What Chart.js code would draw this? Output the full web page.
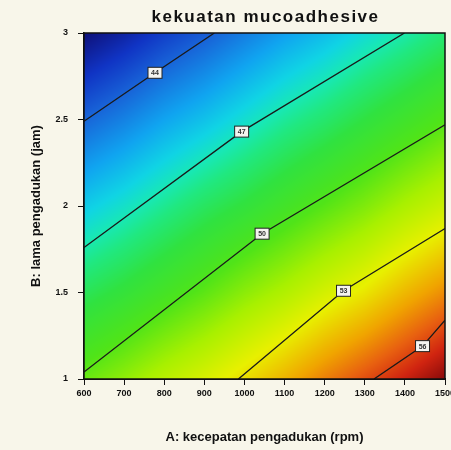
<!DOCTYPE html>
<html>
<head>
<meta charset="utf-8">
<script src="https://cdn.jsdelivr.net/npm/chart.js@4/dist/chart.umd.min.js"></script>
<style>
  html, body { margin: 0; padding: 0; background: #f8f6ea; overflow: hidden; }
  #wrap { width: 460px; height: 450px; }
</style>
</head>
<body>
<div id="wrap"><canvas id="c"></canvas></div>
<script>
// A: stirring speed (rpm) and B: stirring time (jam)
const speedTicks = [600, 700, 800, 900, 1000, 1100, 1200, 1300, 1400, 1500];
const timeTicks = [1, 1.5, 2, 2.5, 3];

// Mucoadhesive strength over the design space, one row per timeTicks value
const strengthAt1 =   [50.4, 51.1, 51.9, 52.6, 53.4, 54.2, 55.1, 55.9, 56.7, 57.6];
const strengthAt1_5 = [48.2, 48.8, 49.5, 50.2, 51.0, 51.7, 52.5, 53.2, 54.1, 54.9];
const strengthAt2 =   [46.1, 46.7, 47.4, 48.1, 48.7, 49.4, 50.1, 50.8, 51.6, 52.3];
const strengthAt2_5 = [44.0, 44.6, 45.3, 45.9, 46.6, 47.3, 47.9, 48.6, 49.3, 50.0];
const strengthAt3 =   [41.9, 42.5, 43.2, 43.8, 44.5, 45.2, 45.8, 46.5, 47.1, 47.8];
const strengthGrid = [strengthAt1, strengthAt1_5, strengthAt2, strengthAt2_5, strengthAt3];

// Contour levels and their iso-lines (the middle point carries the label)
const contourLevels = [44, 47, 50, 53, 56];
const contour44 = [{x: 600, y: 2.49}, {x: 777, y: 2.77}, {x: 925, y: 3.00}];
const contour47 = [{x: 600, y: 1.76}, {x: 993, y: 2.43}, {x: 1399, y: 3.00}];
const contour50 = [{x: 600, y: 1.04}, {x: 1044, y: 1.84}, {x: 1500, y: 2.47}];
const contour53 = [{x: 985, y: 1.00}, {x: 1247, y: 1.51}, {x: 1500, y: 1.87}];
const contour56 = [{x: 1323, y: 1.00}, {x: 1444, y: 1.19}, {x: 1500, y: 1.34}];
const contourLines = [contour44, contour47, contour50, contour53, contour56];

const chartTitle = 'kekuatan mucoadhesive';

// Blue -> cyan -> green -> yellow -> red colour ramp
const rampStops = [
  [41.9, [14, 16, 120]],
  [43.0, [16, 52, 196]],
  [44.0, [24, 100, 216]],
  [45.3, [16, 164, 240]],
  [46.3, [16, 212, 228]],
  [47.0, [24, 232, 180]],
  [47.6, [32, 232, 128]],
  [48.6, [48, 226, 64]],
  [50.0, [80, 228, 24]],
  [51.5, [168, 240, 0]],
  [53.0, [232, 240, 0]],
  [54.5, [240, 164, 0]],
  [55.6, [232, 96, 16]],
  [56.6, [208, 36, 16]],
  [57.6, [136, 10, 10]]
];

function rampColor(v) {
  if (v <= rampStops[0][0]) return rampStops[0][1];
  for (let i = 1; i < rampStops.length; i++) {
    const [v1, c1] = rampStops[i];
    if (v <= v1) {
      const [v0, c0] = rampStops[i - 1];
      const t = (v - v0) / (v1 - v0);
      return [0, 1, 2].map(k => c0[k] + (c1[k] - c0[k]) * t);
    }
  }
  return rampStops[rampStops.length - 1][1];
}

function locate(arr, v) {
  let i = 0;
  while (i < arr.length - 2 && v > arr[i + 1]) i++;
  const t = Math.min(1, Math.max(0, (v - arr[i]) / (arr[i + 1] - arr[i])));
  return [i, t];
}

function strengthAt(xv, yv) {
  const [i, tx] = locate(speedTicks, xv);
  const [j, ty] = locate(timeTicks, yv);
  const a = strengthGrid[j][i], b = strengthGrid[j][i + 1];
  const c = strengthGrid[j + 1][i], d = strengthGrid[j + 1][i + 1];
  return (a * (1 - tx) + b * tx) * (1 - ty) + (c * (1 - tx) + d * tx) * ty;
}

// Filled response surface painted behind the contour lines
const surfacePlugin = {
  id: 'surface',
  beforeDatasetsDraw(chart) {
    const {ctx, chartArea: {left, top, right, bottom}, scales: {x, y}} = chart;
    const w = Math.round(right - left), h = Math.round(bottom - top);
    const off = document.createElement('canvas');
    off.width = w; off.height = h;
    const octx = off.getContext('2d');
    const img = octx.createImageData(w, h);
    for (let r = 0; r < h; r++) {
      const yv = y.getValueForPixel(top + r + 0.5);
      for (let cI = 0; cI < w; cI++) {
        const xv = x.getValueForPixel(left + cI + 0.5);
        const col = rampColor(strengthAt(xv, yv));
        const p = (r * w + cI) * 4;
        img.data[p] = col[0]; img.data[p + 1] = col[1]; img.data[p + 2] = col[2]; img.data[p + 3] = 255;
      }
    }
    octx.putImageData(img, 0, 0);
    ctx.save();
    ctx.drawImage(off, left, top, right - left, bottom - top);
    ctx.restore();
  },
  afterDatasetsDraw(chart) {
    const {ctx, chartArea: {left, top, right, bottom}} = chart;
    ctx.save();
    // plot frame
    ctx.strokeStyle = '#111';
    ctx.lineWidth = 1.5;
    ctx.strokeRect(left, top, right - left, bottom - top);
    // contour value boxes
    ctx.font = 'bold 7px "Liberation Sans", Arial, sans-serif';
    ctx.textAlign = 'center';
    ctx.textBaseline = 'middle';
    chart.data.datasets.forEach((ds, k) => {
      const pt = chart.getDatasetMeta(k).data[1];
      if (!pt) return;
      const bw = 14, bh = 11;
      ctx.fillStyle = '#f4f4f0';
      ctx.fillRect(pt.x - bw / 2, pt.y - bh / 2, bw, bh);
      ctx.strokeStyle = '#222';
      ctx.lineWidth = 1;
      ctx.strokeRect(pt.x - bw / 2, pt.y - bh / 2, bw, bh);
      ctx.fillStyle = '#333';
      ctx.fillText(String(contourLevels[k]), pt.x, pt.y + 0.5);
    });
    // chart title centred over the plot
    ctx.font = 'bold 17px "Liberation Sans", Arial, sans-serif';
    if ('letterSpacing' in ctx) ctx.letterSpacing = '1.5px';
    ctx.fillStyle = '#111';
    ctx.textAlign = 'center';
    ctx.textBaseline = 'middle';
    ctx.fillText(chartTitle, (left + right) / 2 + 1, 17);
    ctx.restore();
  }
};

const tickFont = {family: '"Liberation Sans", Arial, sans-serif', size: 9, weight: 'bold'};
const titleFont = {family: '"Liberation Sans", Arial, sans-serif', size: 13, weight: 'bold'};

new Chart(document.getElementById('c'), {
  type: 'line',
  data: {
    datasets: contourLines.map((pts, k) => ({
      label: String(contourLevels[k]),
      data: pts,
      borderColor: '#1a1a1a',
      borderWidth: 1.3,
      pointRadius: 0,
      tension: 0,
      fill: false
    }))
  },
  options: {
    responsive: true,
    maintainAspectRatio: false,
    animation: false,
    layout: {padding: {left: 0, right: 15, top: 33, bottom: 0}},
    plugins: {
      legend: {display: false},
      tooltip: {enabled: false},
      title: {display: false}
    },
    scales: {
      x: {
        type: 'linear',
        min: speedTicks[0],
        max: speedTicks[speedTicks.length - 1],
        afterBuildTicks(scale) { scale.ticks = speedTicks.map(v => ({value: v})); },
        afterFit(scale) { scale.height = 71; },
        ticks: {color: '#111', font: tickFont, padding: 3, maxRotation: 0, autoSkip: false, callback: v => String(v)},
        grid: {display: true, drawOnChartArea: false, drawTicks: true, tickLength: 6, color: '#111'},
        border: {display: true, color: '#111', width: 2},
        title: {display: true, text: 'A: kecepatan pengadukan (rpm)', color: '#111', font: titleFont, padding: {top: 0, bottom: 5}}
      },
      y: {
        type: 'linear',
        min: timeTicks[0],
        max: timeTicks[timeTicks.length - 1],
        afterBuildTicks(scale) { scale.ticks = timeTicks.map(v => ({value: v})); },
        afterFit(scale) { scale.width = 84; },
        ticks: {color: '#111', font: tickFont, padding: 10, callback: v => String(v)},
        grid: {display: true, drawOnChartArea: false, drawTicks: true, tickLength: 6, color: '#111'},
        border: {display: true, color: '#111', width: 1.5},
        title: {display: true, text: 'B: lama pengadukan (jam)', color: '#111', font: titleFont, padding: {top: 29, bottom: 0}}
      }
    }
  },
  plugins: [surfacePlugin]
});
</script>
</body>
</html>
